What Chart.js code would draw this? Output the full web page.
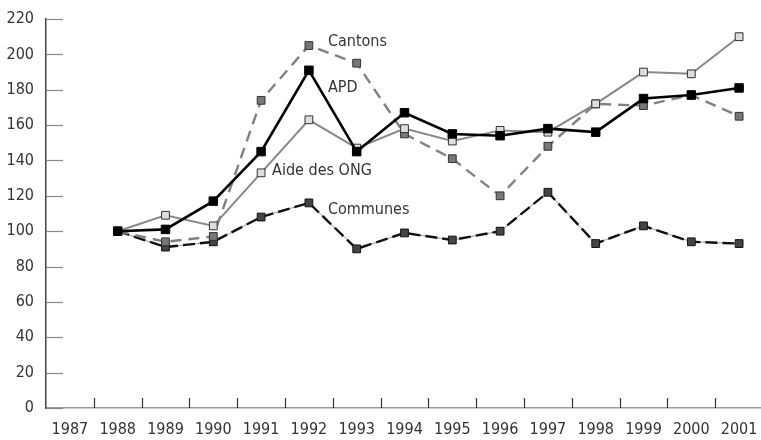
<!DOCTYPE html>
<html>
<head>
<meta charset="utf-8">
<script src="https://cdn.jsdelivr.net/npm/chart.js@4/dist/chart.umd.min.js"></script>
<style>
  html, body { margin: 0; padding: 0; background: #fff; overflow: hidden; }
  canvas { display: block; }
</style>
</head>
<body>
<canvas id="lineChart" width="770" height="440"></canvas>
<script>
/*jshint esversion: 6 */
const years = ["1987","1988","1989","1990","1991","1992","1993","1994","1995","1996","1997","1998","1999","2000","2001"];
const apd      = [null, 100, 101, 117, 145, 191, 145, 167, 155, 154, 158, 156, 175, 177, 181];
const ongAid   = [null, 100, 109, 103, 133, 163, 147, 158, 151, 157, 156, 172, 190, 189, 210];
const cantons  = [null, 100,  94,  97, 174, 205, 195, 155, 141, 120, 148, 172, 171, 177, 165];
const communes = [null, 100,  91,  94, 108, 116,  90,  99,  95, 100, 122,  93, 103,  94,  93];
const yTicks = [0, 20, 40, 60, 80, 100, 120, 140, 160, 180, 200, 220];

// series labels written in the plot: [text, category index, value]
const seriesLabels = [
    ["Cantons", 5, 207],
    ["APD", 5, 181],
    ["Aide des ONG", 4, 134],
    ["Communes", 5, 112]
];

const fontFamily = "'Liberation Sans Narrow', 'DejaVu Sans Condensed', 'Roboto', sans-serif";

const tickMarks = {
    id: "tickMarks",
    beforeDatasetsDraw(chart) {
        const ctx = chart.ctx;
        const x = chart.scales.x, y = chart.scales.y;
        ctx.save();
        // y ticks pointing inward
        ctx.strokeStyle = "#888";
        ctx.lineWidth = 1.2;
        yTicks.forEach(v => {
            const py = Math.round(y.getPixelForValue(v)) + 0.5;
            ctx.beginPath();
            ctx.moveTo(x.left, py);
            ctx.lineTo(x.left + 17, py);
            ctx.stroke();
        });
        // x ticks between categories, pointing up
        ctx.strokeStyle = "#333";
        ctx.lineWidth = 1.2;
        for (let i = 1; i < years.length; i++) {
            const px = Math.round(x.getPixelForValue(i - 0.5)) + 0.5;
            ctx.beginPath();
            ctx.moveTo(px, y.bottom);
            ctx.lineTo(px, y.bottom - 10);
            ctx.stroke();
        }
        // year labels under the axis
        ctx.font = "16px " + fontFamily;
        ctx.fillStyle = "#333";
        ctx.textAlign = "center";
        ctx.textBaseline = "middle";
        years.forEach((yr, i) => {
            ctx.fillText(yr, x.getPixelForValue(i), y.bottom + 22);
        });
        ctx.restore();
    },
    afterDatasetsDraw(chart) {
        const ctx = chart.ctx;
        const x = chart.scales.x, y = chart.scales.y;
        ctx.save();
        ctx.font = "16px " + fontFamily;
        ctx.fillStyle = "#333";
        ctx.textBaseline = "middle";
        ctx.textAlign = "left";
        seriesLabels.forEach(l => {
            const dx = l[0] === "Aide des ONG" ? 11 : 19;
            ctx.fillText(l[0], x.getPixelForValue(l[1]) + dx, y.getPixelForValue(l[2]));
        });
        ctx.restore();
    }
};

function drawLineChart() {
    "use strict";
    let ctx = document.getElementById("lineChart");
    new Chart(ctx, {
        type: 'line',
        data: {
            labels: years,
            datasets: [{
                label: 'APD',
                data: apd,
                borderColor: "#000",
                borderWidth: 2.6,
                pointStyle: 'rect',
                pointRadius: 6,
                pointBackgroundColor: "#000",
                pointBorderColor: "#000",
                pointBorderWidth: 1
            }, {
                label: 'Aide des ONG',
                data: ongAid,
                borderColor: "#888",
                borderWidth: 2,
                pointStyle: 'rect',
                pointRadius: 5.5,
                pointBackgroundColor: "#ddd",
                pointBorderColor: "#333",
                pointBorderWidth: 1
            }, {
                label: 'Cantons',
                data: cantons,
                borderColor: "#808080",
                borderWidth: 2.4,
                borderDash: [11, 7],
                pointStyle: 'rect',
                pointRadius: 5.5,
                pointBackgroundColor: "#777",
                pointBorderColor: "#333",
                pointBorderWidth: 1
            }, {
                label: 'Communes',
                data: communes,
                borderColor: "#111",
                borderWidth: 2.4,
                borderDash: [12, 5],
                pointStyle: 'rect',
                pointRadius: 5.5,
                pointBackgroundColor: "#444",
                pointBorderColor: "#111",
                pointBorderWidth: 1
            }, {
                label: 'Communes base',
                data: communes,
                borderColor: "#999",
                borderWidth: 1,
                pointRadius: 0
            }]
        },
        options: {
            responsive: false,
            animation: false,
            layout: { padding: { top: 19, right: 0, left: 0, bottom: 0 } },
            plugins: {
                legend: { display: false },
                tooltip: { enabled: false }
            },
            scales: {
                x: {
                    offset: true,
                    grid: { display: false, drawTicks: false, offset: true },
                    border: { display: true, color: "#999", width: 1.5 },
                    ticks: { display: false },
                    afterFit(scale) { scale.height = 32; }
                },
                y: {
                    min: 0,
                    max: 220,
                    afterBuildTicks(scale) {
                        scale.ticks = yTicks.map(v => ({ value: v }));
                    },
                    grid: { display: false, drawTicks: false },
                    border: { display: true, color: "#444", width: 1.5 },
                    ticks: {
                        color: "#333",
                        padding: 12,
                        font: { family: fontFamily, size: 16 }
                    },
                    afterFit(scale) {
                        scale.width = 46;
                        scale.paddingTop = 0;
                        scale.paddingBottom = 0;
                    }
                }
            }
        },
        plugins: [tickMarks]
    });
}
drawLineChart();
</script>
</body>
</html>
